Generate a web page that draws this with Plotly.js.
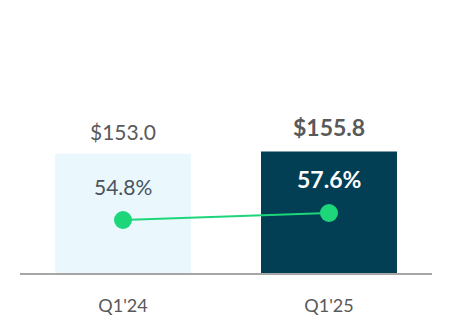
<!DOCTYPE html>
<html>
<head>
<meta charset="utf-8">
<script src="https://cdn.plot.ly/plotly-3.0.1.min.js"></script>
<style>html,body{margin:0;padding:0;background:#fff;}#chart{width:452px;height:332px;}</style>
</head>
<body>
<div id="chart"></div>
<script>
const categories = ["Q1'24", "Q1'25"];
const revenue = [153.0, 155.8];
const revenueLabels = ["$153.0", "$155.8"];
const margin = [54.8, 57.6];
const marginLabels = ["54.8%", "57.6%"];

const barColors = ["#eaf8fe", "#023e54"];
const FONT = "Lato, 'Open Sans', sans-serif";

const traces = [
  {
    type: "bar",
    x: categories,
    y: revenue,
    marker: {color: barColors},
    width: 0.66,
    hoverinfo: "none"
  },
  {
    type: "scatter",
    mode: "lines+markers",
    x: categories,
    y: margin,
    yaxis: "y2",
    line: {color: "#1ed67a", width: 2},
    marker: {color: "#1ed67a", size: 18},
    hoverinfo: "none"
  }
];

const annotations = [];
revenue.forEach((v, i) => {
  annotations.push({
    x: categories[i], y: v, xref: "x", yref: "y",
    text: i === 1 ? "<b>" + revenueLabels[i] + "</b>" : revenueLabels[i],
    showarrow: false, yanchor: "middle", yshift: i === 1 ? 24 : 22,
    font: {family: FONT, size: i === 1 ? 23 : 21, color: "#595959"}
  });
});
margin.forEach((v, i) => {
  annotations.push({
    x: categories[i], y: v, xref: "x", yref: "y2",
    text: i === 1 ? "<b>" + marginLabels[i] + "</b>" : marginLabels[i],
    showarrow: false, yanchor: "middle", yshift: 34,
    font: {family: FONT, size: i === 1 ? 23 : 21, color: i === 1 ? "#ffffff" : "#4a535c"}
  });
});

const layout = {
  width: 452, height: 332,
  margin: {l: 20, r: 20, t: 117, b: 59, pad: 0},
  paper_bgcolor: "#ffffff", plot_bgcolor: "#ffffff",
  showlegend: false,
  bargap: 0.34,
  xaxis: {
    type: "category",
    showline: true, linecolor: "#a6a6a6", linewidth: 2,
    showgrid: false, zeroline: false, ticks: "",
    ticklabelstandoff: 15,
    tickfont: {family: FONT, size: 18, color: "#595959"}
  },
  yaxis: {range: [0, 200], visible: false, fixedrange: true},
  yaxis2: {range: [33.6, 96], overlaying: "y", side: "right", visible: false},
  annotations: annotations,
  font: {family: FONT}
};

Plotly.newPlot("chart", traces, layout, {displayModeBar: false, staticPlot: true});
</script>
</body>
</html>
